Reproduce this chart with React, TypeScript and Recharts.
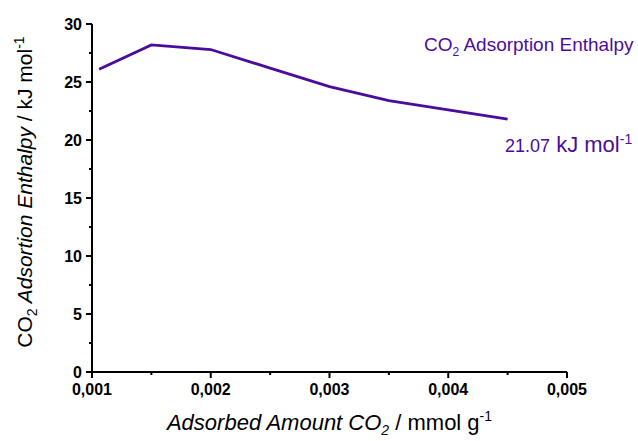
import { LineChart, Line, XAxis, YAxis, Label } from 'recharts';

const amount = [0.00106, 0.0015, 0.002, 0.0025, 0.003, 0.0035, 0.004, 0.0045];
const enthalpy = [26.1, 28.2, 27.8, 26.2, 24.6, 23.4, 22.6, 21.8];
const xTicks = [0.001, 0.0015, 0.002, 0.0025, 0.003, 0.0035, 0.004, 0.0045, 0.005];
const yTicks = [0, 2.5, 5, 7.5, 10, 12.5, 15, 17.5, 20, 22.5, 25, 27.5, 30];

const data = amount.map((x, i) => ({ x, y: enthalpy[i] }));

const PURPLE = '#4B0C9C';
const FONT = '"Liberation Sans", Arial, sans-serif';

function XTick({ x, y, payload, index }: any) {
    const major = index % 2 === 0;
    return (
        <g>
            <line x1={x} y1={y} x2={x} y2={y + (major ? 6 : 3)} stroke="#000" strokeWidth={2} />
            {major && (
                <text x={x} y={y + 23} textAnchor="middle" fontFamily={FONT} fontWeight="bold" fontSize={16} fill="#000">
                    {payload.value.toFixed(3).replace('.', ',')}
                </text>
            )}
        </g>
    );
}

function YTick({ x, y, payload, index }: any) {
    const major = index % 2 === 0;
    return (
        <g>
            <line x1={x} y1={y} x2={x - (major ? 6 : 3)} y2={y} stroke="#000" strokeWidth={2} />
            {major && (
                <text x={x - 10} y={y + 6} textAnchor="end" fontFamily={FONT} fontWeight="bold" fontSize={16} fill="#000">
                    {payload.value}
                </text>
            )}
        </g>
    );
}

function YTitle({ viewBox }: any) {
    const cx = 32;
    const cy = viewBox.y + viewBox.height / 2 - 6;
    return (
        <text x={cx} y={cy} transform={`rotate(-90 ${cx} ${cy})`} textAnchor="middle" fontFamily={FONT} fontSize={21} fill="#000">
            <tspan>CO</tspan>
            <tspan fontSize={14} dy={5}>2</tspan>
            <tspan dy={-5} fontStyle="italic"> Adsortion Enthalpy</tspan>
            <tspan> / kJ mol</tspan>
            <tspan fontSize={14} dy={-8}>-1</tspan>
        </text>
    );
}

function XTitle({ viewBox }: any) {
    const cx = viewBox.x + viewBox.width / 2;
    return (
        <text x={cx} y={430} textAnchor="middle" fontFamily={FONT} fontSize={22} fill="#000">
            <tspan fontStyle="italic">Adsorbed Amount CO</tspan>
            <tspan fontStyle="italic" fontSize={14} dy={5}>2</tspan>
            <tspan dy={-5}> / mmol g</tspan>
            <tspan fontSize={14} dy={-9}>-1</tspan>
        </text>
    );
}

export default function App() {
    return (
        <div style={{ position: 'absolute', left: 0, top: 0, width: 638, height: 441, background: '#fff' }}>
            <LineChart width={638} height={441} data={data} margin={{ top: 24, right: 71, bottom: 39, left: 42 }}>
                <XAxis
                    dataKey="x"
                    type="number"
                    domain={[0.001, 0.005]}
                    ticks={xTicks}
                    interval={0}
                    height={30}
                    tickSize={0}
                    tickMargin={0}
                    tickLine={false}
                    axisLine={{ stroke: '#000', strokeWidth: 2 }}
                    tick={<XTick />}
                >
                    <Label content={<XTitle />} />
                </XAxis>
                <YAxis
                    type="number"
                    domain={[0, 30]}
                    ticks={yTicks}
                    interval={0}
                    width={50}
                    tickSize={0}
                    tickMargin={0}
                    tickLine={false}
                    axisLine={{ stroke: '#000', strokeWidth: 2 }}
                    tick={<YTick />}
                >
                    <Label content={<YTitle />} />
                </YAxis>
                <Line
                    dataKey="y"
                    type="linear"
                    stroke={PURPLE}
                    strokeWidth={2.8}
                    dot={false}
                    isAnimationActive={false}
                />
            </LineChart>
            <div style={{ position: 'absolute', left: 424, top: 34, fontFamily: FONT, fontSize: 19, lineHeight: '22px', color: PURPLE, whiteSpace: 'nowrap' }}>
                CO<sub style={{ fontSize: 12, lineHeight: 0 }}>2</sub> Adsorption Enthalpy
            </div>
            <div style={{ position: 'absolute', left: 505, top: 133, fontFamily: FONT, fontSize: 22, lineHeight: '24px', color: PURPLE, whiteSpace: 'nowrap' }}>
                <span style={{ fontSize: 18 }}>21.07</span> kJ mol<sup style={{ fontSize: 14, lineHeight: 0 }}>-1</sup>
            </div>
        </div>
    );
}
